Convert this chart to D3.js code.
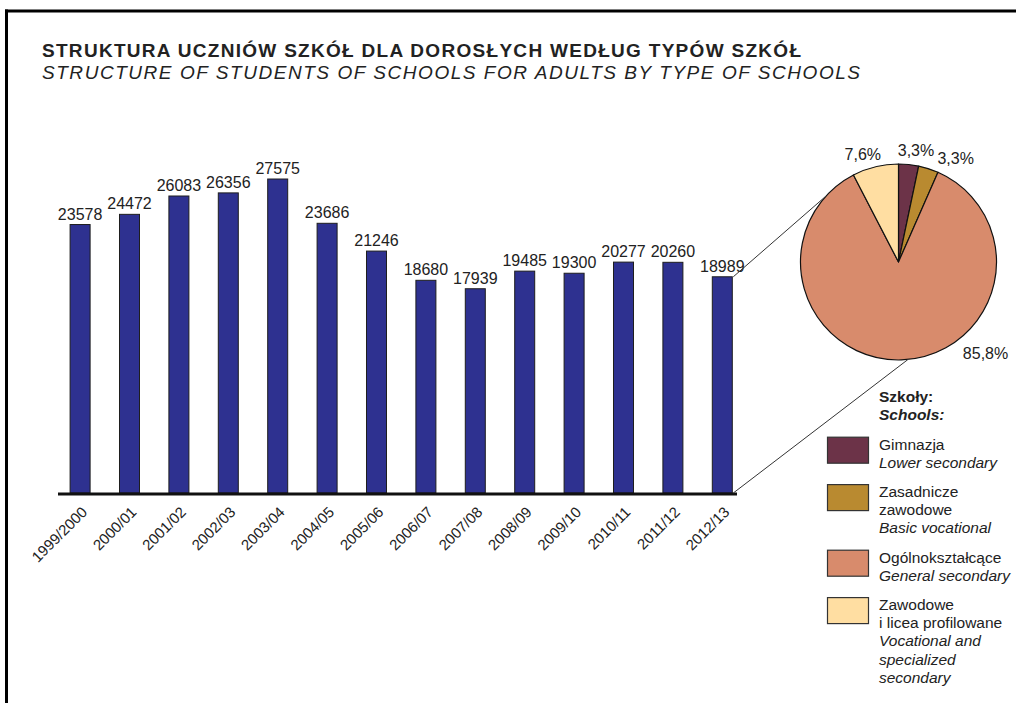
<!DOCTYPE html>
<html>
<head>
<meta charset="utf-8">
<script src="https://cdn.jsdelivr.net/npm/d3@7"></script>
<style>
  html, body { margin: 0; padding: 0; background: #fff; }
  svg { display: block; }
  text { font-family: "Liberation Sans", Arial, Helvetica, sans-serif; fill: #222; }
</style>
</head>
<body>
<svg id="chart" width="1016" height="703"></svg>
<script>
// ---- data ----
const years = ["1999/2000","2000/01","2001/02","2002/03","2003/04","2004/05","2005/06",
               "2006/07","2007/08","2008/09","2009/10","2010/11","2011/12","2012/13"];
const students = [23578,24472,26083,26356,27575,23686,21246,18680,17939,19485,19300,20277,20260,18989];

const schoolTypesPL = ["Gimnazja", "Zasadnicze zawodowe", "Ogólnokształcące", "Zawodowe i licea profilowane"];
const schoolTypesEN = ["Lower secondary", "Basic vocational", "General secondary", "Vocational and specialized secondary"];
const shares = [3.3, 3.3, 85.8, 7.6];
const shareLabels = ["3,3%", "3,3%", "85,8%", "7,6%"];
const legendLines = [
  [["Gimnazja", false], ["Lower secondary", true]],
  [["Zasadnicze", false], ["zawodowe", false], ["Basic vocational", true]],
  [["Ogólnokształcące", false], ["General secondary", true]],
  [["Zawodowe", false], ["i licea profilowane", false], ["Vocational and", true], ["specialized", true], ["secondary", true]]
];
const sliceColors = ["#6C3348", "#B98A30", "#D88B6C", "#FFDEA2"];

const titlePL = "STRUKTURA UCZNIÓW SZKÓŁ DLA DOROSŁYCH WEDŁUG TYPÓW SZKÓŁ";
const titleEN = "STRUCTURE OF STUDENTS OF SCHOOLS FOR ADULTS BY TYPE OF SCHOOLS";

// ---- drawing ----
const svg = d3.select("#chart");

// frame (top and left edges)
svg.append("line").attr("x1", 5).attr("x2", 1016).attr("y1", 11).attr("y2", 11)
  .attr("stroke", "#000").attr("stroke-width", 3);
svg.append("line").attr("x1", 6.5).attr("x2", 6.5).attr("y1", 9.5).attr("y2", 703)
  .attr("stroke", "#000").attr("stroke-width", 3);

// titles
svg.append("text").attr("x", 42).attr("y", 57)
  .attr("font-size", 19).attr("font-weight", "bold").attr("fill", "#1a1a1a")
  .attr("textLength", 759).attr("lengthAdjust", "spacing").text(titlePL);
svg.append("text").attr("x", 42).attr("y", 79)
  .attr("font-size", 19).attr("font-style", "italic").attr("fill", "#1a1a1a")
  .attr("textLength", 818).attr("lengthAdjust", "spacing").text(titleEN);

// scales
const x = d3.scaleBand().domain(years).range([55.4, 747]).paddingInner(0.595).paddingOuter(0.2975);
const y = d3.scaleLinear().domain([0, 30000]).range([493, 151.4]);

// bars
svg.append("g").selectAll("rect").data(years).join("rect")
  .attr("x", d => x(d)).attr("width", x.bandwidth())
  .attr("y", (d, i) => y(students[i])).attr("height", (d, i) => y(0) - y(students[i]))
  .attr("fill", "#2E3190").attr("stroke", "#1e1e1e").attr("stroke-width", 1);

// value labels
svg.append("g").selectAll("text").data(years).join("text")
  .attr("x", d => x(d) + x.bandwidth() / 2).attr("y", (d, i) => y(students[i]) - 5)
  .attr("text-anchor", "middle").attr("font-size", 16)
  .text((d, i) => students[i]);

// baseline axis line
svg.append("line").attr("x1", 58).attr("x2", 737).attr("y1", 494).attr("y2", 494)
  .attr("stroke", "#111").attr("stroke-width", 3);

// x labels
svg.append("g").selectAll("text").data(years).join("text")
  .attr("transform", d => `translate(${x(d) + x.bandwidth() / 2 + 8},${513}) rotate(-45)`)
  .attr("text-anchor", "end").attr("font-size", 15)
  .text(d => d);

// pie
const cx = 898.5, cy = 262, R = 98;
const pie = d3.pie().sort(null).value(d => d);
const arcs = pie(shares);
const arc = d3.arc().innerRadius(0).outerRadius(R);
const pg = svg.append("g").attr("transform", `translate(${cx},${cy})`);

// connector lines from last bar to pie
const lastYear = years[years.length - 1];
const lastVal = students[students.length - 1];
const barRight = x(lastYear) + x.bandwidth();
const pTop = d3.pointRadial(-47.7 * Math.PI / 180, R);
const pBot = d3.pointRadial(174.5 * Math.PI / 180, R);
svg.append("line").attr("x1", barRight + 1).attr("y1", y(lastVal))
  .attr("x2", cx + pTop[0]).attr("y2", cy + pTop[1])
  .attr("stroke", "#333").attr("stroke-width", 1);
svg.append("line").attr("x1", barRight + 1).attr("y1", y(0))
  .attr("x2", cx + pBot[0]).attr("y2", cy + pBot[1])
  .attr("stroke", "#333").attr("stroke-width", 1);

pg.selectAll("path").data(arcs).join("path")
  .attr("d", arc).attr("fill", (d, i) => sliceColors[i])
  .attr("stroke", "#111").attr("stroke-width", 1.2).attr("stroke-linejoin", "round");

// pie labels (layout: clock angle in degrees, radius)
const labelPos = [[8.9, 113], [29, 118], [136.3, 126], [-18.4, 113]];
pg.selectAll("text").data(arcs).join("text")
  .attr("transform", (d, i) => {
    const p = d3.pointRadial(labelPos[i][0] * Math.PI / 180, labelPos[i][1]);
    return `translate(${p[0]},${p[1]})`;
  })
  .attr("text-anchor", "middle").attr("dy", "0.35em").attr("font-size", 16)
  .text((d, i) => shareLabels[i]);

// legend
const lg = svg.append("g");
const lx = 879, swX = 827.5, swW = 41, swH = 26, lineH = 18.2, gap = 11;
lg.append("text").attr("x", lx).attr("y", 402).attr("font-size", 15.5).attr("font-weight", "bold").text("Szkoły:");
lg.append("text").attr("x", lx).attr("y", 420).attr("font-size", 15.5).attr("font-weight", "bold").attr("font-style", "italic").text("Schools:");
let by = 449.5;
legendLines.forEach((lines, i) => {
  lg.append("rect").attr("x", swX).attr("y", by - 12.3).attr("width", swW).attr("height", swH)
    .attr("fill", sliceColors[i]).attr("stroke", "#333").attr("stroke-width", 1.2);
  lines.forEach((ln, j) => {
    lg.append("text").attr("x", lx).attr("y", by + j * lineH).attr("font-size", 15.5)
      .attr("font-style", ln[1] ? "italic" : "normal").text(ln[0]);
  });
  by += lines.length * lineH + gap;
});
</script>
</body>
</html>
